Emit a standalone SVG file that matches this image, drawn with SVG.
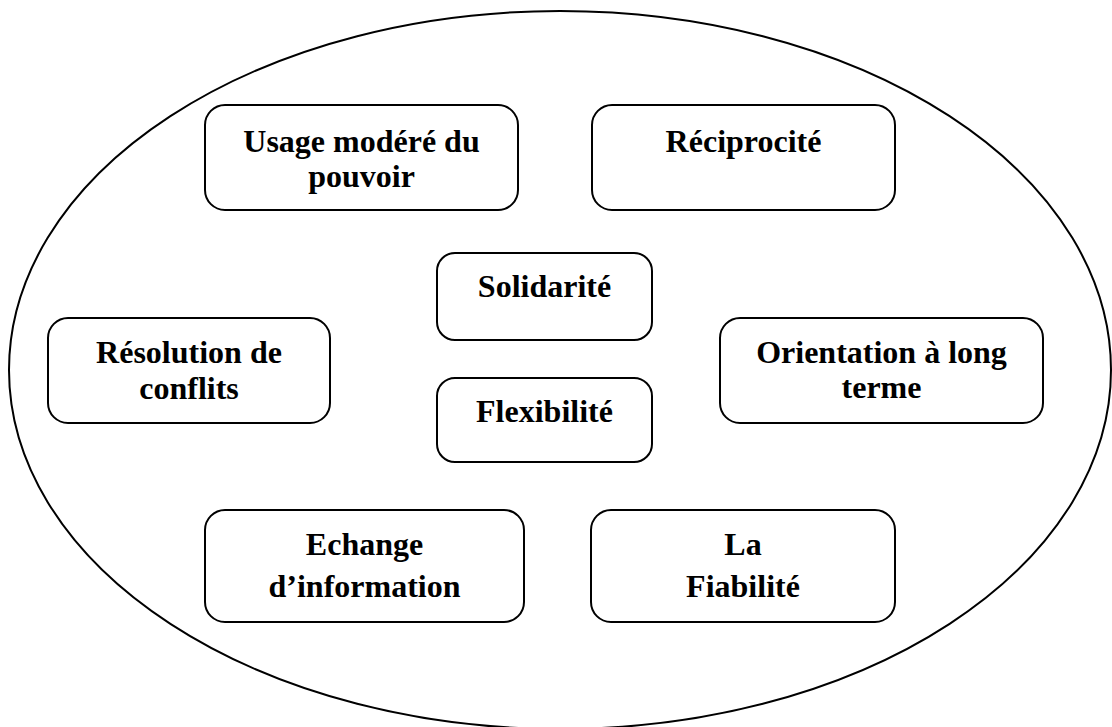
<svg xmlns="http://www.w3.org/2000/svg" width="1112" height="727" viewBox="0 0 1112 727">
  <style>
    .frame { fill: none; stroke: #000; stroke-width: 2; }
    .box { fill: #fff; stroke: #000; stroke-width: 2; }
    .label { font-family: "Liberation Serif", "Times New Roman", serif; font-weight: bold; font-size: 32px; fill: #000; text-anchor: middle; }
  </style>
  <rect width="1112" height="727" fill="#fff"/>

  <!-- enclosing ellipse -->
  <g id="enclosure">
    <ellipse class="frame" cx="560" cy="370" rx="551" ry="359"/>
  </g>

  <!-- no connectors in this figure -->
  <g id="connectors"/>

  <g id="node-usage">
    <rect class="box" x="205" y="105" width="313" height="105" rx="20" ry="20"/>
    <text class="label" x="361.5" y="152">Usage modéré du</text>
    <text class="label" x="361.5" y="187">pouvoir</text>
  </g>

  <g id="node-reciprocite">
    <rect class="box" x="592" y="105" width="303" height="105" rx="20" ry="20"/>
    <text class="label" x="743.5" y="152">Réciprocité</text>
  </g>

  <g id="node-resolution">
    <rect class="box" x="48" y="318" width="282" height="105" rx="20" ry="20"/>
    <text class="label" x="189" y="363">Résolution de</text>
    <text class="label" x="189" y="399">conflits</text>
  </g>

  <g id="node-solidarite">
    <rect class="box" x="437" y="253" width="215" height="87" rx="18" ry="18"/>
    <text class="label" x="544.5" y="297">Solidarité</text>
  </g>

  <g id="node-flexibilite">
    <rect class="box" x="437" y="378" width="215" height="84" rx="18" ry="18"/>
    <text class="label" x="544.5" y="422">Flexibilité</text>
  </g>

  <g id="node-orientation">
    <rect class="box" x="720" y="318" width="323" height="105" rx="20" ry="20"/>
    <text class="label" x="881.5" y="363">Orientation à long</text>
    <text class="label" x="881.5" y="398">terme</text>
  </g>

  <g id="node-echange">
    <rect class="box" x="205" y="510" width="319" height="112" rx="20" ry="20"/>
    <text class="label" x="364.5" y="555">Echange</text>
    <text class="label" x="364.5" y="597">d’information</text>
  </g>

  <g id="node-fiabilite">
    <rect class="box" x="591" y="510" width="304" height="112" rx="20" ry="20"/>
    <text class="label" x="743" y="555">La</text>
    <text class="label" x="743" y="597">Fiabilité</text>
  </g>
</svg>
